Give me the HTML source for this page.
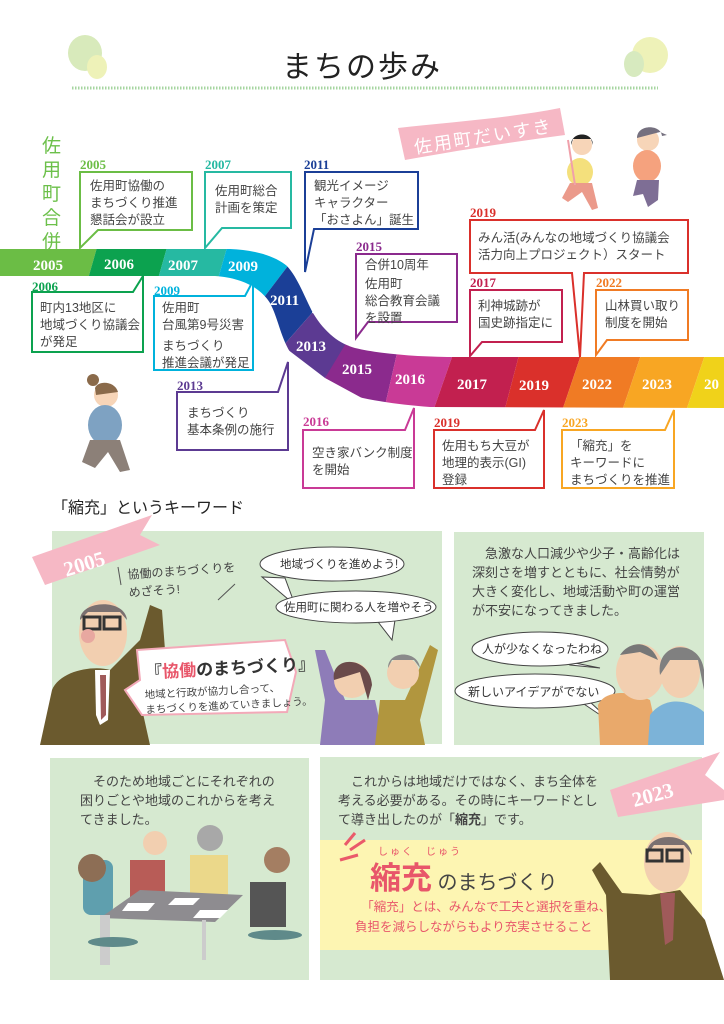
<!DOCTYPE html>
<html><head><meta charset="utf-8"><style>
body{margin:0;background:#fff;}
#p{position:relative;width:724px;height:1024px;overflow:hidden;font-family:"Liberation Sans","Noto Sans CJK JP",sans-serif;color:#333;}
.a{position:absolute;white-space:nowrap;}
.t{font-size:12.5px;line-height:17px;color:#444;}
.y{font-family:"Liberation Serif",serif;font-weight:bold;font-size:13px;}
</style></head><body><div id="p">
<svg width="724" height="1024" style="position:absolute;left:0;top:0">
<defs>
<clipPath id="rb"><path d="M0,249 L230,249 C255,250 275,256 287,266 C298,278 305,298 313,313 C325,333 340,344 355,348 C380,354 420,357 457,357 L724,357 L724,408 L430,407 C390,404 355,398 335,390 C315,381 300,368 290,352 C280,335 278,318 270,303 C262,290 245,278 215,276 L0,276 Z"/></clipPath>
</defs>
<ellipse cx="85" cy="53" rx="17" ry="18" fill="#d8eabb"/>
<ellipse cx="97" cy="67" rx="10" ry="12" fill="#eef2b8"/>
<ellipse cx="650" cy="55" rx="18" ry="18" fill="#eef2b8"/>
<ellipse cx="634" cy="64" rx="10" ry="13" fill="#d7eabf"/>
<line x1="72" y1="88" x2="658" y2="88" stroke="#a6d5a0" stroke-width="3" stroke-dasharray="1.5 1.5"/>
<path d="M398,128 C450,122 510,118 560,108 L565,135 C512,142 460,150 405,160 Z" fill="#f6b8c5"/>
<g clip-path="url(#rb)">
<polygon points="-5,230 102,230 82,300 -5,300" fill="#6bbd45"/>
<polygon points="102,230 172,230 152,300 82,300" fill="#0ca24f"/>
<polygon points="172,230 232,230 212,300 152,300" fill="#26b9a2"/>
<polygon points="232,230 300,230 300,250 262,300 212,300" fill="#00b2dc"/>
<polygon points="300,250 330,250 312,313 283,346 262,300" fill="#1b3f97"/>
<polygon points="312,313 360,320 353,340 325,378 283,346" fill="#5c3a92"/>
<polygon points="360,320 400,340 384,410 325,378" fill="#8b2a8d"/>
<polygon points="400,340 458,340 430,420 384,410" fill="#c93a96"/>
<polygon points="458,340 523,340 502,420 430,420" fill="#c2204f"/>
<polygon points="523,340 586,340 559,420 502,420" fill="#da302b"/>
<polygon points="586,340 646,340 619,420 559,420" fill="#f07b24"/>
<polygon points="646,340 710,340 683,420 619,420" fill="#f8a623"/>
<polygon points="710,340 730,340 730,420 683,420" fill="#f0d21a"/>
</g>
<g font-family="Liberation Serif,serif" font-weight="bold" font-size="15" fill="#fff">
<text x="33" y="270">2005</text><text x="104" y="269">2006</text><text x="168" y="270">2007</text><text x="228" y="271">2009</text>
<text x="270" y="305">2011</text><text x="296" y="351">2013</text><text x="342" y="374">2015</text><text x="395" y="384">2016</text>
<text x="457" y="389">2017</text><text x="519" y="390">2019</text><text x="582" y="389">2022</text><text x="642" y="389">2023</text><text x="704" y="389">20</text>
</g>
<g fill="#fff" stroke-width="2">
<path d="M80,248 L80,172 L192,172 L192,230 L98,230 Z" stroke="#6bbd45"/>
<path d="M205,248 L205,172 L291,172 L291,228 L222,228 Z" stroke="#26b9a2"/>
<path d="M305,272 L305,172 L418,172 L418,229 L314,229 Z" stroke="#1b3f97"/>
<path d="M356,338 L356,254 L457,254 L457,322 L368,322 Z" stroke="#8b2a8d"/>
<path d="M470,356 L470,290 L562,290 L562,342 L482,342 Z" stroke="#c2204f"/>
<path d="M470,220 L688,220 L688,273 L584,273 L580,357 L572,273 L470,273 Z" stroke="#da302b"/>
<path d="M596,355 L596,290 L688,290 L688,340 L607,340 Z" stroke="#f07b24"/>
<path d="M143,276 L143,352 L32,352 L32,292 L133,292 Z" stroke="#0ca24f"/>
<path d="M253,281 L253,370 L154,370 L154,296 L245,296 Z" stroke="#00b2dc"/>
<path d="M288,362 L288,450 L177,450 L177,392 L278,392 Z" stroke="#5c3a92"/>
<path d="M414,408 L414,488 L303,488 L303,430 L405,430 Z" stroke="#c93a96"/>
<path d="M544,410 L544,488 L434,488 L434,430 L535,430 Z" stroke="#da302b"/>
<path d="M674,410 L674,488 L562,488 L562,430 L665,430 Z" stroke="#f8a623"/>
</g>
<g>
<circle cx="93" cy="380" r="6" fill="#8a6a4a"/>
<circle cx="106" cy="395" r="12" fill="#f7d5b8"/>
<path d="M95,388 C98,380 115,381 118,392 L96,395Z" fill="#8a6a4a"/>
<ellipse cx="105" cy="425" rx="17" ry="20" fill="#7ea2c2"/>
<path d="M90,440 L120,440 L130,470 L120,472 L108,452 L95,468 L82,462 Z" fill="#8c8078"/>
</g>
<g>
<circle cx="582" cy="145" r="10" fill="#f7d5b8"/><path d="M571,145 C571,131 593,131 593,145 L591,139 L573,139Z" fill="#222"/>
<ellipse cx="580" cy="172" rx="13" ry="14" fill="#f4e07c"/>
<path d="M570,183 L592,183 L598,208 L592,210 L582,192 L568,202 L562,198Z" fill="#eb9a8b"/>
<line x1="568" y1="140" x2="575" y2="185" stroke="#f0a0aa" stroke-width="2"/>
<circle cx="648" cy="140" r="11" fill="#f7d5b8"/><path d="M637,138 C637,124 661,124 662,136 L667,135 L660,132 Z" fill="#75707f"/>
<ellipse cx="647" cy="166" rx="14" ry="16" fill="#f5a27e"/>
<path d="M637,180 L659,180 L658,200 L648,207 L643,194 L633,196Z" fill="#7e6e95"/>
</g>
<rect x="52" y="531" width="390" height="213" fill="#d6e9d0"/>
<rect x="454" y="532" width="250" height="213" fill="#d6e9d0"/>
<rect x="50" y="758" width="259" height="222" fill="#d6e9d0"/>
<rect x="320" y="757" width="382" height="223" fill="#d6e9d0"/>
<rect x="320" y="840" width="382" height="110" fill="#fdf5b2"/>
<polygon points="32,557 152,515 140,535 160,545 45,585" fill="#f6b8c5"/>
<text x="62" y="572" transform="rotate(-17 80 560)" font-family="Liberation Serif,serif" font-weight="bold" font-size="21" fill="#fff">2005</text>
<polygon points="610,790 720,752 705,775 724,790 724,800 618,817" fill="#f6b8c5"/>
<text x="632" y="800" transform="rotate(-15 660 795)" font-family="Liberation Serif,serif" font-weight="bold" font-size="21" fill="#fff">2023</text>
<line x1="118" y1="567" x2="121" y2="585" stroke="#555"/><line x1="235" y1="584" x2="218" y2="600" stroke="#555"/>
<path d="M262,577 L295,605 L285,578Z" fill="#fff" stroke="#444"/>
<ellipse cx="332" cy="564" rx="72" ry="17" fill="#fff" stroke="#444"/>
<path d="M395,620 L392,640 L375,618Z" fill="#fff" stroke="#444"/>
<ellipse cx="356" cy="607" rx="80" ry="16" fill="#fff" stroke="#444"/>
<path d="M40,745 L52,690 C60,670 95,665 110,670 L140,640 L150,605 L162,610 L165,650 L140,700 L150,745Z" fill="#6b5a2e"/>
<ellipse cx="103" cy="633" rx="24" ry="33" fill="#f2cfb0"/>
<path d="M80,620 C80,600 125,598 127,620 L120,612 L88,612Z" fill="#7a7070"/>
<rect x="84" y="617" width="16" height="12" fill="none" stroke="#333" stroke-width="3"/><rect x="104" y="617" width="16" height="12" fill="none" stroke="#333" stroke-width="3"/>
<circle cx="88" cy="636" r="7" fill="#e8a8a0"/>
<polygon points="95,670 110,670 108,720 100,725 96,715" fill="#fff"/>
<polygon points="100,675 106,675 106,715 101,720" fill="#a05a5a"/>
<path d="M137,650 L285,640 L296,672 L287,712 L142,715 L125,690 L140,680Z" fill="#fff" stroke="#f3a9b8" stroke-width="2"/>
<path d="M315,650 L325,700 L320,745 L385,745 L375,700 L345,700 L325,650Z" fill="#8e7cb8"/>
<circle cx="352" cy="680" r="18" fill="#f2cfb0"/><path d="M334,680 C330,655 370,655 372,685 L368,700 L360,672Z" fill="#6a4a4a"/>
<path d="M375,745 L380,700 L405,700 L430,645 L438,650 L420,720 L425,745Z" fill="#b1963e"/>
<circle cx="403" cy="673" r="16" fill="#f2cfb0"/><path d="M388,668 C388,650 418,650 420,668 L414,660 L392,660Z" fill="#8a8a8a"/>
<path d="M560,660 L600,668 L570,665Z" fill="#fff" stroke="#444"/>
<ellipse cx="540" cy="649" rx="68" ry="17" fill="#fff" stroke="#444"/>
<path d="M578,700 L615,725 L590,702Z" fill="#fff" stroke="#444"/>
<ellipse cx="535" cy="691" rx="80" ry="17" fill="#fff" stroke="#444"/>
<path d="M600,745 L598,705 C605,690 630,690 650,700 L660,745Z" fill="#e9a96b"/>
<ellipse cx="640" cy="672" rx="24" ry="28" fill="#f2cfb0"/><path d="M620,655 C630,640 650,640 658,660 L640,652Z" fill="#777"/>
<path d="M648,745 L650,715 C665,695 690,700 704,712 L704,745Z" fill="#7cb3d8"/>
<ellipse cx="680" cy="672" rx="20" ry="26" fill="#f2cfb0"/><path d="M660,675 C655,640 700,638 704,670 L704,690 L698,660 L670,660Z" fill="#808080"/>
<rect x="83" y="860" width="30" height="55" rx="8" fill="#5f9fae"/><circle cx="92" cy="868" r="14" fill="#8d6e55"/>
<rect x="130" y="860" width="35" height="40" fill="#b85c57"/><circle cx="155" cy="843" r="12" fill="#f2cfb0"/>
<rect x="190" y="855" width="38" height="40" fill="#ebd88a"/><circle cx="210" cy="838" r="13" fill="#a8a8a8"/>
<rect x="250" y="882" width="36" height="45" fill="#555"/><circle cx="277" cy="860" r="13" fill="#a47e62"/>
<polygon points="140,890 243,895 215,922 100,918" fill="#8e8c90"/>
<rect x="100" y="915" width="10" height="50" fill="#ccc"/><rect x="202" y="920" width="4" height="40" fill="#ccc"/>
<ellipse cx="113" cy="942" rx="25" ry="5" fill="#5f8a8a"/><ellipse cx="275" cy="935" rx="27" ry="5" fill="#5f8a8a"/>
<polygon points="128,903 155,903 148,911 122,911" fill="#fff"/><polygon points="175,898 200,898 193,905 168,905" fill="#fff"/><polygon points="200,910 228,910 220,918 193,918" fill="#fff"/>
<path d="M610,980 L606,895 L592,870 L600,862 L622,893 L650,895 L680,890 L705,920 L724,980Z" fill="#6b5a2e"/>
<ellipse cx="667" cy="862" rx="23" ry="30" fill="#f2cfb0"/><path d="M647,855 C645,832 690,830 692,855 L684,845 L654,845Z" fill="#7a7070"/>
<rect x="647" y="850" width="15" height="11" fill="none" stroke="#333" stroke-width="3"/><rect x="667" y="850" width="15" height="11" fill="none" stroke="#333" stroke-width="3"/>
<polygon points="660,893 675,893 673,940 665,945" fill="#a05a5a"/>
<path d="M345,845 L355,833 M350,850 L365,840 M340,860 L358,855" stroke="#ea5a6a" stroke-width="3"/>
</svg>

<div class="a" style="left:0;top:42px;width:724px;text-align:center;font-size:30px;color:#222;letter-spacing:2px">まちの歩み</div>
<div class="a" style="left:412px;top:134px;font-size:18px;color:#fff;transform:rotate(-9deg);transform-origin:left top;letter-spacing:2px">佐用町だいすき</div>
<div class="a" style="left:42px;top:135px;width:22px;font-size:19px;line-height:24px;color:#6cc04a;white-space:normal">佐用町合併</div>

<div class="a y" style="left:80px;top:157px;color:#6bbd45">2005</div>
<div class="a t" style="left:90px;top:178px">佐用町協働の<br>まちづくり推進<br>懇話会が設立</div>
<div class="a y" style="left:205px;top:157px;color:#26b9a2">2007</div>
<div class="a t" style="left:215px;top:183px">佐用町総合<br>計画を策定</div>
<div class="a y" style="left:304px;top:157px;color:#1b3f97">2011</div>
<div class="a t" style="left:314px;top:178px">観光イメージ<br>キャラクター<br>「おさよん」誕生</div>
<div class="a y" style="left:356px;top:239px;color:#8b2a8d">2015</div>
<div class="a t" style="left:365px;top:257px">合併10周年</div>
<div class="a t" style="left:365px;top:276px">佐用町<br>総合教育会議<br>を設置</div>
<div class="a y" style="left:470px;top:205px;color:#da302b">2019</div>
<div class="a t" style="left:478px;top:230px">みん活(みんなの地域づくり協議会<br>活力向上プロジェクト）スタート</div>
<div class="a y" style="left:470px;top:275px;color:#c2204f">2017</div>
<div class="a t" style="left:478px;top:298px">利神城跡が<br>国史跡指定に</div>
<div class="a y" style="left:596px;top:275px;color:#f07b24">2022</div>
<div class="a t" style="left:605px;top:298px">山林買い取り<br>制度を開始</div>
<div class="a y" style="left:32px;top:279px;color:#0ca24f">2006</div>
<div class="a t" style="left:40px;top:300px">町内13地区に<br>地域づくり協議会<br>が発足</div>
<div class="a y" style="left:154px;top:283px;color:#00b2dc">2009</div>
<div class="a t" style="left:162px;top:300px">佐用町<br>台風第9号災害</div>
<div class="a t" style="left:162px;top:338px">まちづくり<br>推進会議が発足</div>
<div class="a y" style="left:177px;top:378px;color:#5c3a92">2013</div>
<div class="a t" style="left:187px;top:405px">まちづくり<br>基本条例の施行</div>
<div class="a y" style="left:303px;top:414px;color:#c93a96">2016</div>
<div class="a t" style="left:312px;top:445px">空き家バンク制度<br>を開始</div>
<div class="a y" style="left:434px;top:415px;color:#da302b">2019</div>
<div class="a t" style="left:442px;top:438px">佐用もち大豆が<br>地理的表示(GI)<br>登録</div>
<div class="a y" style="left:562px;top:415px;color:#f8a623">2023</div>
<div class="a t" style="left:570px;top:438px">「縮充」を<br>キーワードに<br>まちづくりを推進</div>

<div class="a" style="left:52px;top:494px;font-size:16px;color:#222">「縮充」というキーワード</div>
<div class="a" style="left:128px;top:562px;font-size:12px;line-height:18px;color:#444;transform:rotate(-4deg)">協働のまちづくりを<br>めざそう!</div>
<div class="a" style="left:280px;top:556px;font-size:11.5px;color:#333">地域づくりを進めよう!</div>
<div class="a" style="left:284px;top:599px;font-size:11.5px;color:#333">佐用町に関わる人を増やそう</div>
<div class="a" style="left:145px;top:654px;font-size:17px;font-weight:bold;color:#333;transform:rotate(-3deg)">『<span style="color:#e8566a">協働</span>のまちづくり』</div>
<div class="a" style="left:145px;top:684px;font-size:10.5px;line-height:15px;color:#444;transform:rotate(-3deg)">地域と行政が協力し合って、<br>まちづくりを進めていきましょう。</div>

<div class="a" style="left:472px;top:544px;font-size:13px;line-height:19px;color:#444">　急激な人口減少や少子・高齢化は<br>深刻さを増すとともに、社会情勢が<br>大きく変化し、地域活動や町の運営<br>が不安になってきました。</div>
<div class="a" style="left:482px;top:640px;font-size:12px;color:#333">人が少なくなったわね</div>
<div class="a" style="left:468px;top:683px;font-size:12px;color:#333">新しいアイデアがでない</div>

<div class="a" style="left:80px;top:772px;font-size:13px;line-height:19px;color:#444">　そのため地域ごとにそれぞれの<br>困りごとや地域のこれからを考え<br>てきました。</div>

<div class="a" style="left:338px;top:772px;font-size:13px;line-height:19px;color:#444">　これからは地域だけではなく、まち全体を<br>考える必要がある。その時にキーワードとし<br>て導き出したのが「<b>縮充</b>」です。</div>
<div class="a" style="left:378px;top:843px;font-size:10px;color:#e8566a;letter-spacing:2px">しゅく　じゅう</div>
<div class="a" style="left:370px;top:853px;font-size:31px;font-weight:bold;color:#e8566a">縮充<span style="font-size:20px;color:#444;font-weight:normal"> のまちづくり</span></div>
<div class="a" style="left:355px;top:897px;font-size:12.5px;line-height:20px;color:#e8566a">　「縮充」とは、みんなで工夫と選択を重ね、<br>負担を減らしながらもより充実させること</div>
</div></body></html>
